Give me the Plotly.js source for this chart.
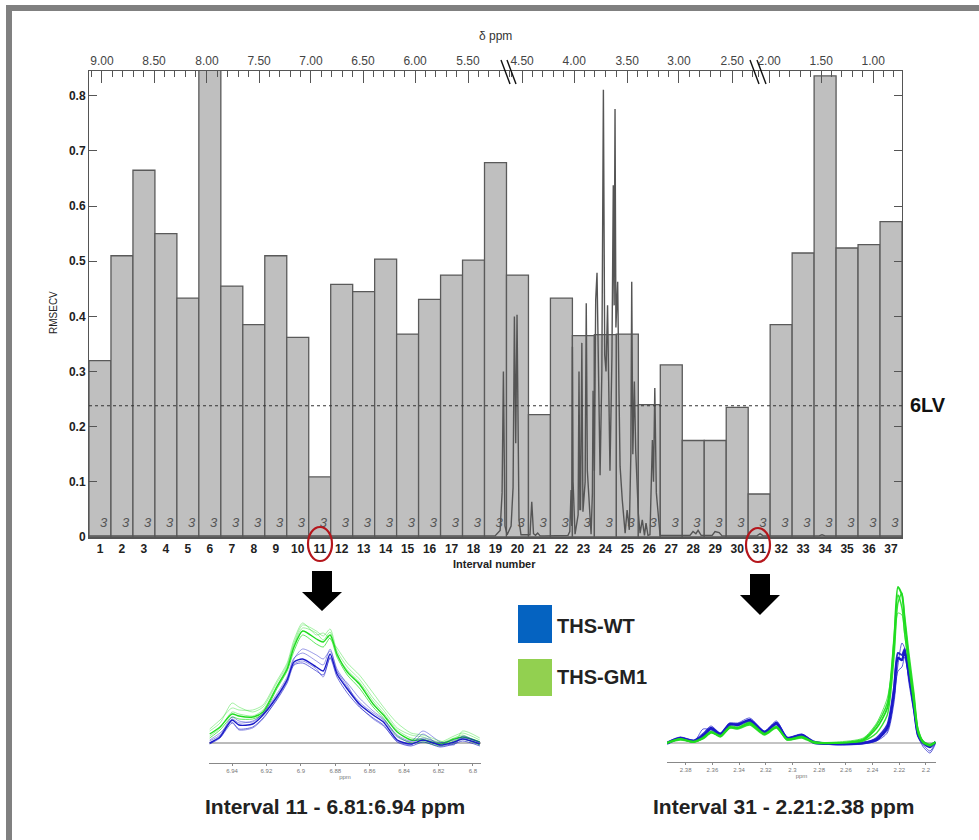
<!DOCTYPE html>
<html><head><meta charset="utf-8">
<script src="https://cdn.plot.ly/plotly-3.0.1.min.js"></script>
<style>html,body{margin:0;padding:0;background:#fff}#c{width:979px;height:840px}</style></head>
<body><div id="c"></div>
<script>
// ---------- data ----------
const intervals = [1,2,3,4,5,6,7,8,9,10,11,12,13,14,15,16,17,18,19,20,21,22,23,24,25,26,27,28,29,30,31,32,33,34,35,36,37];
const rmsecv = [0.32,0.51,0.665,0.55,0.433,0.86,0.455,0.385,0.51,0.362,0.109,0.458,0.445,0.504,0.368,0.431,0.475,0.502,0.679,0.475,0.222,0.433,0.365,0.367,0.368,0.24,0.312,0.175,0.175,0.235,0.078,0.385,0.515,0.836,0.524,0.53,0.572];
const lvCounts = intervals.map(() => '3');
const lvLine = 0.238;
const yTicks = [0,0.1,0.2,0.3,0.4,0.5,0.6,0.7,0.8];

// top axis: tick positions expressed in interval-number units
const ppmMajorPos = [1.09,3.46,5.87,8.24,10.60,12.97,15.34,17.75,20.21,22.58,24.99,27.35,29.77,31.45,33.82,36.19];
const ppmMajorText = ['9.00','8.50','8.00','7.50','7.00','6.50','6.00','5.50','4.50','4.00','3.50','3.00','2.50','2.00','1.50','1.00'];
const ppmMinorPos = [0.62,1.56,2.04,2.51,2.99,3.94,4.41,4.89,5.36,6.34,6.82,7.29,7.77,8.71,9.18,9.66,10.13,11.08,11.55,12.03,12.50,13.44,13.92,14.39,14.87,15.81,16.29,16.76,17.24,18.22,18.70,19.16,19.64,
 19.74,20.68,21.16,21.62,22.10,23.05,23.52,23.99,24.49,25.46,25.94,26.40,26.88,27.83,28.30,28.77,29.26,30.24,30.71,
 30.98,31.92,32.40,32.86,33.34,34.29,34.76,35.23,35.71,36.66,37.13];

// overlaid mean spectrum, x in interval-number units
const specX = [0.5,18.98,19.21,19.30,19.36,19.43,19.53,19.71,19.80,19.86,19.92,19.98,20.07,20.16,20.57,20.65,20.73,20.82,20.92,21.03,21.21,22.30,22.38,22.44,22.47,22.50,22.53,22.62,22.76,22.80,22.84,22.87,22.93,22.98,23.08,23.13,23.18,23.35,23.41,23.44,23.50,23.56,23.62,23.68,23.76,23.84,23.91,23.97,24.03,24.10,24.21,24.30,24.36,24.40,24.44,24.48,24.56,24.62,24.67,24.77,24.90,24.99,25.09,25.16,25.20,25.25,25.32,25.38,25.50,25.58,25.68,25.78,25.85,25.94,26.03,26.14,26.19,26.25,26.32,26.49,27.85,27.99,28.12,28.22,28.36,28.86,28.99,29.18,29.31,30.90,31.04,31.18,33.73,33.86,34.0,37.5];
const specY = [0.002,0.002,0.012,0.08,0.30,0.02,0.004,0.02,0.09,0.40,0.17,0.403,0.03,0.004,0.004,0.064,0.006,0.003,0.007,0.002,0.002,0.003,0.01,0.085,0.02,0.345,0.10,0.005,0.04,0.30,0.05,0.05,0.352,0.046,0.10,0.424,0.12,0.005,0.08,0.265,0.12,0.43,0.479,0.30,0.112,0.30,0.811,0.33,0.30,0.42,0.12,0.33,0.638,0.42,0.776,0.38,0.463,0.26,0.128,0.067,0.007,0.049,0.013,0.15,0.463,0.15,0.282,0.158,0.043,0.007,0.031,0.003,0.025,0.003,0.004,0.176,0.10,0.27,0.08,0.003,0.003,0.01,0.006,0.012,0.003,0.003,0.01,0.008,0.002,0.002,0.006,0.002,0.002,0.004,0.002,0.002];

// inset, interval 11
const ppm11 = [6.953,6.947,6.940,6.936,6.928,6.922,6.914,6.908,6.904,6.899,6.891,6.887,6.883,6.879,6.873,6.866,6.858,6.852,6.844,6.836,6.829,6.819,6.811,6.806,6.796];
const ppm11Ticks = [6.94,6.92,6.9,6.88,6.86,6.84,6.82,6.8];
const wt11a = [0,6,23,18,19,28,46,63,81,84,76,72,89,69,54,39,28,21,3,-1,3,-2,1,4,-1];
const wt11b = [2,8,26,22,21,30,49,66,85,90,82,78,94,72,56,41,30,23,6,1,5,0,3,6,1];
const wt11c = [-1,5,20,14,16,25,43,60,78,80,72,68,85,66,50,36,25,18,1,-3,1,-4,-1,2,-3];
const wt11d = [3,10,21,13,15,24,44,62,84,94,88,84,92,74,58,37,24,17,2,-2,9,-3,0,5,1];
const wt11e = [0,7,24,20,22,29,47,64,79,82,74,66,86,71,60,45,32,24,8,2,12,1,-2,7,0];
const gm11a = [9,16,29,27,26,31,56,74,96,112,104,101,108,89,71,59,39,28,11,3,3,-1,4,6,1];
const gm11b = [12,20,40,36,31,36,60,78,100,118,112,107,114,92,76,64,45,33,15,8,6,1,7,10,3];
const gm11c = [5,13,26,24,24,29,54,72,92,108,99,96,105,86,68,55,36,25,7,0,1,-3,2,4,-2];
const gm11d = [14,23,35,33,33,38,62,80,103,120,108,110,104,95,80,68,50,36,20,10,8,2,-1,12,5];
const gm11e = [7,15,31,29,27,33,57,76,98,115,110,103,111,88,73,61,42,30,13,5,4,0,5,8,-2];

// inset, interval 31
const ppm31 = [2.394,2.384,2.374,2.367,2.361,2.354,2.347,2.341,2.332,2.321,2.312,2.304,2.293,2.284,2.267,2.247,2.237,2.229,2.224,2.221,2.218,2.216,2.213,2.209,2.206,2.202,2.197,2.193];
const ppm31Ticks = [2.38,2.36,2.34,2.32,2.3,2.28,2.26,2.24,2.22,2.2];
const wt31a = [0,5,2,8,15,9,19,18,23,11,20,5,8,1,-1,0,3,15,50,85,83,92,70,35,8,0,-4,1];
const wt31b = [1,6,3,10,17,10,20,20,25,12,22,6,9,2,-1,1,4,12,45,78,100,95,62,30,6,-2,-8,0];
const wt31c = [0,4,1,14,13,8,17,17,21,10,18,4,7,1,-2,-1,2,10,40,72,76,86,66,32,7,-4,-10,-1];
const wt31d = [-1,5,2,6,14,8,18,19,22,11,19,5,8,0,-1,0,5,18,55,90,88,94,72,38,10,1,-2,1];
const gm31a = [0,4,1,5,11,7,16,15,20,9,16,4,6,1,0,3,15,35,100,156,148,122,85,42,12,1,-2,1];
const gm31b = [0,3,1,4,10,7,15,14,18,8,15,3,5,0,0,4,18,40,105,148,135,110,78,38,10,0,-3,0];
const gm31c = [1,4,2,6,12,8,17,16,21,10,17,4,7,1,1,5,20,45,90,130,128,108,80,48,15,2,-1,1];
const gm31d = [0,4,1,5,11,6,15,15,19,9,16,3,6,1,0,2,10,28,85,140,150,128,92,50,14,1,-2,1];

// ---------- page geometry ----------
const W = 979, H = 840;
const px = x => x / W;
const py = y => 1 - y / H;
const FONT = '"Liberation Sans", Arial, sans-serif';

const poly = pts => 'M' + pts.map(p => px(p[0]).toFixed(5) + ',' + py(p[1]).toFixed(5)).join(' L') + ' Z';
const rectShape = (x0, y0, x1, y1, color) => ({type:'rect', xref:'paper', yref:'paper', x0:px(x0), x1:px(x1), y0:py(y0), y1:py(y1), fillcolor:color, line:{width:0}});
const seg = (x0, y0, x1, y1, color, w) => ({type:'line', xref:'paper', yref:'paper', x0:px(x0), x1:px(x1), y0:py(y0), y1:py(y1), line:{color:color, width:w}});
const ring = (x0, y0, x1, y1) => ({type:'circle', xref:'paper', yref:'paper', x0:px(x0), x1:px(x1), y0:py(y0), y1:py(y1), line:{color:'#b5161c', width:2.2}});
const arrow = (cx, top, neck, tip) => ({type:'path', xref:'paper', yref:'paper', fillcolor:'#000', line:{width:0},
  path: poly([[cx-10,top],[cx+10,top],[cx+10,neck],[cx+20,neck],[cx,tip],[cx-20,neck],[cx-10,neck]])});
const label = (x, y, text, size, opts) => Object.assign({xref:'paper', yref:'paper', x:px(x), y:py(y), text:text, showarrow:false,
  xanchor:'center', yanchor:'middle', font:{family:FONT, size:size, color:'#222'}}, opts || {});

// ---------- traces ----------
const traces = [
  {type:'bar', x:intervals, y:rmsecv, xaxis:'x', yaxis:'y', width:1, marker:{color:'#bfbfbf', line:{color:'#5a5a5a', width:1.3}}, hoverinfo:'x+y'},
  {type:'scatter', mode:'text', x:intervals.map(i => i + 0.17), y:intervals.map(() => 0.024), text:lvCounts, xaxis:'x', yaxis:'y',
   textfont:{family:FONT, size:13, color:'#555', style:'italic'}, hoverinfo:'skip'},
  {type:'scatter', mode:'lines', x:specX, y:specY, xaxis:'x2', yaxis:'y', line:{color:'#555', width:1.4}, hoverinfo:'skip'}
];
const curve = (x, y, ax, color, w, op) => ({type:'scatter', mode:'lines', x:x, y:y, xaxis:'x'+ax, yaxis:'y'+ax,
  line:{color:color, width:w, shape:'spline', smoothing:0.7}, opacity:op, hoverinfo:'skip'});
const GREEN = '#1fdc1f', BLUE = '#1a1ac8';
[[gm11b,.5,.8],[gm11d,.5,.8],[gm11e,.55,.8],[gm11c,.7,1],[gm11a,1,1.4]].forEach(c => traces.push(curve(ppm11, c[0], 3, GREEN, c[2], c[1])));
[[wt11b,.55,.8],[wt11d,.55,.8],[wt11e,.55,.8],[wt11c,.7,.9],[wt11a,1,1.4]].forEach(c => traces.push(curve(ppm11, c[0], 3, BLUE, c[2], c[1])));
[[wt31b,.7,1],[wt31c,.7,1],[wt31d,.9,2],[wt31a,1,2.4]].forEach(c => traces.push(curve(ppm31, c[0], 4, BLUE, c[2], c[1])));
[[gm31c,.7,1],[gm31b,.9,1.4],[gm31d,.9,1.4],[gm31a,1,1.8]].forEach(c => traces.push(curve(ppm31, c[0], 4, GREEN, c[2], c[1])));

// ---------- layout ----------
const axisColor = '#555';
const insetAxis = (dom, range, ticks) => ({domain:dom, range:range, tickmode:'array', tickvals:ticks, ticktext:ticks.map(String),
  showline:true, linecolor:'#888', linewidth:1, ticks:'outside', ticklen:2, tickcolor:'#888', showgrid:false, zeroline:false,
  tickfont:{family:FONT, size:6, color:'#777'}, title:{text:'ppm', font:{family:FONT, size:6, color:'#777'}, standoff:1}});

const layout = {
  width:W, height:H, margin:{l:0,r:0,t:0,b:0}, paper_bgcolor:'#fff', plot_bgcolor:'rgba(0,0,0,0)', showlegend:false, barmode:'overlay',
  xaxis:{domain:[px(89),px(902)], range:[0.5,37.5], anchor:'y', tickmode:'array', tickvals:intervals, ticktext:intervals.map(String),
    showline:true, linecolor:axisColor, linewidth:1.5, ticks:'', showgrid:false, zeroline:false, tickangle:0,
    tickfont:{family:FONT, size:12, color:'#222', weight:'bold'}},
  xaxis2:{domain:[px(89),px(902)], range:[0.5,37.5], overlaying:'x', anchor:'y', side:'top', tickmode:'array', tickvals:ppmMajorPos, ticktext:ppmMajorText,
    showline:true, linecolor:axisColor, linewidth:1, ticks:'inside', ticklen:12, tickcolor:axisColor, showgrid:false, zeroline:false, tickangle:0,
    tickfont:{family:FONT, size:12, color:'#444'},
    minor:{tickmode:'array', tickvals:ppmMinorPos, ticks:'inside', ticklen:6, tickcolor:axisColor, showgrid:false}},
  yaxis:{domain:[py(537),py(71)], range:[0,0.845], anchor:'x', tickmode:'array', tickvals:yTicks, ticktext:yTicks.map(String),
    showline:true, mirror:'ticks', linecolor:axisColor, linewidth:1, ticks:'inside', ticklen:8, tickcolor:axisColor, showgrid:false, zeroline:false,
    tickfont:{family:FONT, size:12, color:'#222', weight:'bold'}},
  xaxis3:Object.assign(insetAxis([px(209),px(481)], [6.9534,6.7953], ppm11Ticks), {anchor:'y3'}),
  yaxis3:{domain:[py(763),py(615)], range:[-20,128], anchor:'x3', visible:false},
  xaxis4:Object.assign(insetAxis([px(667),px(936)], [2.394,2.1925], ppm31Ticks), {anchor:'y4'}),
  yaxis4:{domain:[py(762),py(580)], range:[-19,163], anchor:'x4', visible:false},
  shapes:[
    rectShape(6,5,979,11,'#808080'),
    rectShape(6,5,12,840,'#808080'),
    {type:'line', xref:'paper', yref:'y', x0:px(89), x1:px(905), y0:lvLine, y1:lvLine, line:{color:'#333', width:1, dash:'dot'}},
    {type:'line', xref:'x3', yref:'y3', x0:6.9534, x1:6.7953, y0:0, y1:0, line:{color:'#777', width:1}, layer:'below'},
    {type:'line', xref:'x4', yref:'y4', x0:2.394, x1:2.1925, y0:0, y1:0, line:{color:'#888', width:1}, layer:'below'},
    seg(501,60,510,84,'#111',1.4), seg(507,60,516,84,'#111',1.4),
    seg(750,60,759,84,'#111',1.4), seg(757,60,766,84,'#111',1.4),
    ring(308,527,332,561), ring(746,528,770,562),
    arrow(322,571,592,611), arrow(760,574,595,615),
    rectShape(518,605,552,643,'#0563c1'),
    rectShape(518,659,552,696,'#92d050')
  ],
  annotations:[
    label(495,36,'δ ppm',12,{font:{family:FONT,size:12,color:'#333'}}),
    label(53,313,'RMSECV',10,{textangle:-90}),
    label(494,564,'Interval number',11,{font:{family:FONT,size:11,color:'#222',weight:'bold'}}),
    label(928,405,'6LV',20,{font:{family:FONT,size:20,color:'#111',weight:'bold'}}),
    label(555,626,'THS-WT',20,{xanchor:'left',font:{family:FONT,size:20,color:'#222',weight:'bold'}}),
    label(555,677,'THS-GM1',20,{xanchor:'left',font:{family:FONT,size:20,color:'#222',weight:'bold'}}),
    label(335,806,'Interval 11 - 6.81:6.94 ppm',21,{font:{family:FONT,size:21,color:'#222',weight:'bold'}}),
    label(783,806,'Interval 31 - 2.21:2.38 ppm',21,{font:{family:FONT,size:21,color:'#222',weight:'bold'}})
  ]
};
Plotly.newPlot('c', traces, layout, {displayModeBar:false, staticPlot:true});
</script></body></html>
